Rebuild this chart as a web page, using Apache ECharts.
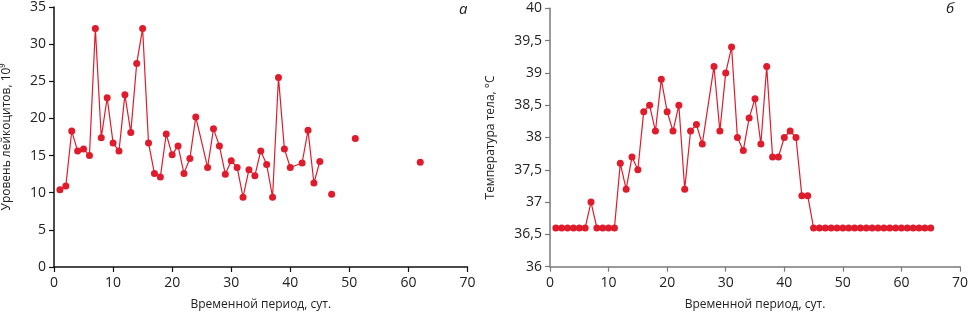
<!DOCTYPE html>
<html>
<head>
<meta charset="utf-8">
<script src="https://cdn.jsdelivr.net/npm/echarts@6/dist/echarts.min.js"></script>
<style>
  html, body { margin: 0; padding: 0; background: #fff; }
  #chart { width: 971px; height: 319px; }
</style>
</head>
<body>
<div id="chart"></div>
<script>
// left panel (а): leukocytes, connected days then a few isolated measurements
const leukoDays = [1, 2, 3, 4, 5, 6, 7, 8, 9, 10, 11, 12, 13, 14, 15, 16, 17, 18, 19, 20, 21, 22, 23, 24,
  26, 27, 28, 29, 30, 31, 32, 33, 34, 35, 36, 37, 38, 39, 40, 42, 43, 44, 45];
const leukoValues = [10.4, 10.9, 18.3, 15.6, 15.9, 15.0, 32.1, 17.4, 22.8, 16.7, 15.6, 23.2, 18.1, 27.4, 32.1, 16.7,
  12.6, 12.1, 17.9, 15.1, 16.3, 12.6, 14.6, 20.2,
  13.4, 18.6, 16.3, 12.5, 14.3, 13.4, 9.4, 13.1, 12.3, 15.6, 13.8, 9.4, 25.5, 15.9, 13.4, 14.0, 18.4, 11.3, 14.2];
const leukoLoneDays = [47, 51, 62];
const leukoLoneValues = [9.8, 17.3, 14.1];

// right panel (б): body temperature
const tempDays = [1, 2, 3, 4, 5, 6, 7, 8, 9, 10, 11, 12, 13, 14, 15, 16, 17, 18, 19, 20, 21, 22, 23, 24, 25, 26,
  28, 29, 30, 31, 32, 33, 34, 35, 36, 37, 38, 39, 40, 41, 42, 43, 44,
  45, 46, 47, 48, 49, 50, 51, 52, 53, 54, 55, 56, 57, 58, 59, 60, 61, 62, 63, 64, 65];
const tempValues = [36.6, 36.6, 36.6, 36.6, 36.6, 36.6, 37.0, 36.6, 36.6, 36.6, 36.6, 37.6, 37.2, 37.7, 37.5,
  38.4, 38.5, 38.1, 38.9, 38.4, 38.1, 38.5, 37.2, 38.1, 38.2, 37.9,
  39.1, 38.1, 39.0, 39.4, 38.0, 37.8, 38.3, 38.6, 37.9, 39.1, 37.7, 37.7, 38.0, 38.1, 38.0, 37.1, 37.1,
  36.6, 36.6, 36.6, 36.6, 36.6, 36.6, 36.6, 36.6, 36.6, 36.6, 36.6, 36.6, 36.6, 36.6, 36.6, 36.6, 36.6, 36.6, 36.6, 36.6, 36.6];

const xTicks = [0, 10, 20, 30, 40, 50, 60, 70];
const leukoTicks = [0, 5, 10, 15, 20, 25, 30, 35];
const tempTicks = [36, 36.5, 37, 37.5, 38, 38.5, 39, 39.5, 40];

const RED = "#e01b2b";
const FONT = "Open Sans";
const pairs = (xs, ys) => xs.map((x, i) => [x, ys[i]]);

const chart = echarts.init(document.getElementById("chart"), null, { renderer: "canvas" });

const xAxisBase = (gridIndex, axisColor) => ({
  type: "value",
  gridIndex,
  min: xTicks[0],
  max: xTicks[xTicks.length - 1],
  interval: 10,
  name: "Временной период, сут.",
  nameLocation: "middle",
  nameGap: 32,
  nameTextStyle: { fontFamily: FONT, fontSize: 12, color: "#222" },
  axisLine: { show: true, lineStyle: { color: axisColor, width: 1.5 } },
  axisTick: { show: true, length: 5, lineStyle: { color: axisColor, width: 1.2 } },
  axisLabel: { fontFamily: FONT, fontSize: 14, color: "#222", margin: 9 },
  splitLine: { show: false },
});

chart.setOption({
  animation: false,
  textStyle: { fontFamily: FONT },
  grid: [
    { left: 53.5, top: 6, width: 414, height: 261 },
    { left: 550, top: 8.3, width: 413.3, height: 258.4 },
  ],
  xAxis: [xAxisBase(0, "#111"), xAxisBase(1, "#7a7a7a")],
  yAxis: [
    {
      type: "value",
      gridIndex: 0,
      min: leukoTicks[0],
      max: leukoTicks[leukoTicks.length - 1],
      interval: 5,
      name: "Уровень лейкоцитов, 10⁹",
      nameLocation: "middle",
      nameGap: 41,
      nameTextStyle: { fontFamily: FONT, fontSize: 12, color: "#222" },
      axisLine: { show: true, lineStyle: { color: "#111", width: 1.5 } },
      axisTick: { show: true, length: 5, lineStyle: { color: "#111", width: 1.2 } },
      axisLabel: { fontFamily: FONT, fontSize: 14, color: "#222", margin: 8 },
      splitLine: { show: false },
    },
    {
      type: "value",
      gridIndex: 1,
      min: tempTicks[0],
      max: tempTicks[tempTicks.length - 1],
      interval: 0.5,
      name: "Температура тела, °С",
      nameLocation: "middle",
      nameGap: 53,
      nameTextStyle: { fontFamily: FONT, fontSize: 12, color: "#222" },
      axisLine: { show: true, lineStyle: { color: "#7a7a7a", width: 1.5 } },
      axisTick: { show: true, length: 5, lineStyle: { color: "#7a7a7a", width: 1.2 } },
      axisLabel: {
        fontFamily: FONT, fontSize: 14, color: "#222", margin: 8,
        formatter: v => String(v).replace(".", ","),
      },
      splitLine: { show: false },
    },
  ],
  graphic: [
    { type: "text", left: 459, top: 2, style: { text: "а", fontFamily: FONT, fontStyle: "italic", fontSize: 15, fill: "#222" } },
    { type: "text", left: 946, top: 1, style: { text: "б", fontFamily: FONT, fontStyle: "italic", fontSize: 15, fill: "#222" } },
  ],
  series: [
    {
      type: "line",
      xAxisIndex: 0, yAxisIndex: 0,
      data: pairs(leukoDays, leukoValues),
      symbol: "circle", symbolSize: 7,
      lineStyle: { color: RED, width: 1.2 },
      itemStyle: { color: RED },
    },
    {
      type: "scatter",
      xAxisIndex: 0, yAxisIndex: 0,
      data: pairs(leukoLoneDays, leukoLoneValues),
      symbol: "circle", symbolSize: 7,
      itemStyle: { color: RED, opacity: 1 },
    },
    {
      type: "line",
      xAxisIndex: 1, yAxisIndex: 1,
      data: pairs(tempDays, tempValues),
      symbol: "circle", symbolSize: 7,
      lineStyle: { color: RED, width: 1.2 },
      itemStyle: { color: RED },
    },
  ],
});
</script>
</body>
</html>
